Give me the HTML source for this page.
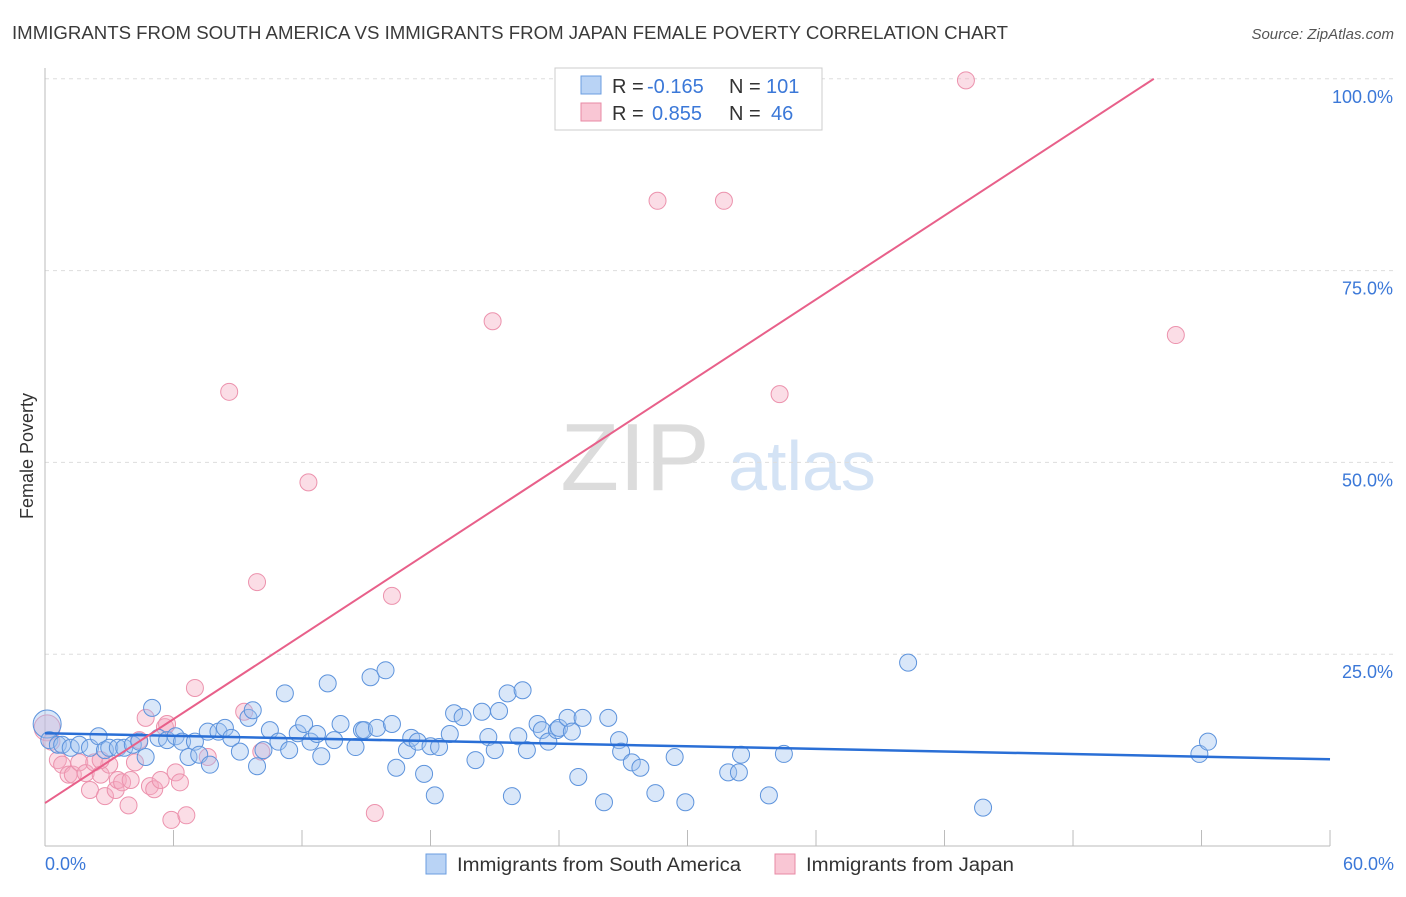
<!DOCTYPE html>
<html><head><meta charset="utf-8"><style>
body{margin:0;background:#fff;font-family:"Liberation Sans",sans-serif;}
svg text{font-family:"Liberation Sans",sans-serif;}
</style></head><body>
<svg id="chart" width="1406" height="892">
<text x="12" y="39" font-size="18" fill="#3a3a3a" textLength="996" lengthAdjust="spacingAndGlyphs">IMMIGRANTS FROM SOUTH AMERICA VS IMMIGRANTS FROM JAPAN FEMALE POVERTY CORRELATION CHART</text>
<text x="1394" y="39" font-size="15" fill="#555" text-anchor="end" font-style="italic">Source: ZipAtlas.com</text>
<text transform="translate(33,456) rotate(-90)" font-size="18" fill="#333" text-anchor="middle">Female Poverty</text>
<g>
<text x="635" y="490" font-size="96" fill="#dcdcdc" text-anchor="middle" font-family="Liberation Serif,serif">ZIP</text>
<text x="802" y="490" font-size="70" fill="#d4e3f5" text-anchor="middle">atlas</text>
</g>
<g id="grid"></g><g id="axes"></g><g id="lines"></g><g id="pts"></g>
<g>
<rect x="555" y="68" width="267" height="62" fill="#fff" stroke="#ccc"/>
<rect x="581" y="76" width="20" height="18" fill="#b9d3f5" stroke="#6b9ee0"/>
<rect x="581" y="103" width="20" height="18" fill="#f9c6d4" stroke="#e88aa5"/>
<text x="612" y="93" font-size="20" fill="#333">R =</text>
<text x="647" y="93" font-size="20" fill="#3b78d8">-0.165</text>
<text x="729" y="93" font-size="20" fill="#333">N =</text>
<text x="766" y="93" font-size="20" fill="#3b78d8">101</text>
<text x="612" y="120" font-size="20" fill="#333">R =</text>
<text x="652" y="120" font-size="20" fill="#3b78d8">0.855</text>
<text x="729" y="120" font-size="20" fill="#333">N =</text>
<text x="771" y="120" font-size="20" fill="#3b78d8">46</text>
</g>
<g>
<rect x="426" y="854" width="20" height="20" fill="#b9d3f5" stroke="#6b9ee0"/>
<text x="457" y="871" font-size="19" fill="#333" textLength="284" lengthAdjust="spacingAndGlyphs">Immigrants from South America</text>
<rect x="775" y="854" width="20" height="20" fill="#f9c6d4" stroke="#e88aa5"/>
<text x="806" y="871" font-size="19" fill="#333" textLength="208" lengthAdjust="spacingAndGlyphs">Immigrants from Japan</text>
</g>
</svg>
<script>
const yTicks=[25,50,75,100];
const yTickLabels=["25.0%","50.0%","75.0%","100.0%"];
const xTicks=[0,6,12,18,24,30,36,42,48,54,60];
const xLabels=["0.0%","60.0%"];
const blueX=[0.1,0.2,0.6,0.8,1.2,1.6,2.1,2.5,2.8,3.0,3.4,3.7,4.1,4.4,4.7,5.0,5.3,5.7,6.1,6.4,6.7,7.0,7.2,7.6,7.7,8.1,8.4,8.7,9.1,9.5,9.7,9.9,10.2,10.5,10.9,11.2,11.4,11.8,12.1,12.4,12.7,12.9,13.2,13.5,13.8,14.5,14.8,14.9,15.2,15.5,15.9,16.2,16.4,16.9,17.1,17.4,17.7,18.0,18.2,18.4,18.9,19.1,19.5,20.1,20.4,20.7,21.0,21.2,21.6,21.8,22.1,22.3,22.5,23.0,23.2,23.5,23.9,24.0,24.4,24.6,24.9,25.1,26.1,26.3,26.8,26.9,27.4,27.8,28.5,29.4,29.9,31.9,32.4,32.5,33.8,34.5,40.3,43.8,53.9,54.3];
const blueY=[15.9,13.8,13.2,13.2,12.8,13.2,12.8,14.3,12.5,12.8,12.8,12.8,13.2,13.6,11.6,18.0,14.1,13.8,14.3,13.6,11.6,13.6,11.9,14.9,10.6,14.9,15.4,14.1,12.3,16.7,17.7,10.4,12.5,15.1,13.6,19.9,12.5,14.7,15.9,13.6,14.6,11.7,21.2,13.8,15.9,12.9,15.1,15.1,22.0,15.4,22.9,15.9,10.2,12.5,14.1,13.6,9.4,13.0,6.6,12.9,14.6,17.3,16.8,11.2,17.5,14.2,12.5,17.6,19.9,6.5,14.3,20.3,12.5,15.9,15.1,13.6,15.1,15.4,16.7,14.9,9.0,16.7,5.7,16.7,13.8,12.3,10.9,10.2,6.9,11.6,5.7,9.6,9.6,11.9,6.6,12.0,23.9,5.0,12.0,13.6];
const pinkX=[0.1,0.3,0.6,0.8,1.1,1.3,1.6,1.9,2.1,2.3,2.6,2.8,3.0,3.3,3.4,3.6,3.9,4.0,4.2,4.4,4.7,4.9,5.1,5.4,5.6,5.7,5.9,6.1,6.3,6.6,7.0,7.6,8.6,9.3,9.9,10.1,12.3,15.4,16.2,20.9,28.6,31.7,34.3,43.0,52.8,2.6];
const pinkY=[15.4,13.6,11.2,10.6,9.3,9.3,10.9,9.5,7.3,10.9,9.3,6.5,10.6,7.3,8.6,8.3,5.3,8.6,10.9,13.8,16.7,7.8,7.4,8.6,15.5,15.9,3.4,9.6,8.3,4.0,20.6,11.6,59.2,17.5,34.4,12.3,47.4,4.3,32.6,68.4,84.1,84.1,58.9,99.8,66.6,11.2];
const blueFit=[14.7,11.3];
const pinkFit=[5.6,115.0];
const X=v=>45+v*21.417, Y=v=>846-v*7.672;
const NS="http://www.w3.org/2000/svg";
function mk(t,a,p){const e=document.createElementNS(NS,t);for(const k in a)e.setAttribute(k,a[k]);p.appendChild(e);return e;}
const grid=document.getElementById('grid'),axes=document.getElementById('axes');
yTicks.forEach((t,i)=>{
 const l=mk('line',{x1:45,x2:1394,y1:Y(t),y2:Y(t),stroke:'#ddd','stroke-dasharray':'4,4'},grid);
 
 
 const tx=mk('text',{x:1393,y:Y(t)+24,'font-size':18,fill:'#3b78d8','text-anchor':'end'},axes);
 tx.textContent=yTickLabels[i];
 
 
});
const ya=mk('line',{x1:45,x2:45,y1:68,y2:846,stroke:'#bbb'},axes);


const xa=mk('line',{x1:45,x2:1330,y1:846,y2:846,stroke:'#bbb'},axes);


xTicks.forEach(t=>{
 const l=mk('line',{x1:X(t),x2:X(t),y1:830,y2:846,stroke:'#bbb'},axes);
 
 
});
[[0,'start',45],[60,'end',1394]].forEach((d,i)=>{
 const tx=mk('text',{x:d[2],y:870,'font-size':18,fill:'#3b78d8','text-anchor':d[1]},axes);
 tx.textContent=xLabels[i];
 
 
});
const pts=document.getElementById('pts');
pinkX.forEach((x,i)=>{
 const c=mk('circle',{cx:X(x),cy:Y(pinkY[i]),r:i===0?13:8.5,fill:'rgba(246,170,192,0.4)',stroke:'#ec92ad','stroke-width':1},pts);
 
 
});
blueX.forEach((x,i)=>{
 const c=mk('circle',{cx:X(x),cy:Y(blueY[i]),r:i===0?14:8.5,fill:'rgba(160,196,240,0.4)',stroke:'#5d93dc','stroke-width':1},pts);
 
 
});
const bl=mk('line',{x1:X(0),y1:Y(blueFit[0]),x2:X(60),y2:Y(blueFit[1]),stroke:'#2a6fd6','stroke-width':2.5},pts);


const px100=(100-pinkFit[0])/((pinkFit[1]-pinkFit[0])/60);
const pl=mk('line',{x1:X(0),y1:Y(pinkFit[0]),x2:X(px100),y2:Y(100),stroke:'#e8608a','stroke-width':2},pts);


</script>
</body></html>
